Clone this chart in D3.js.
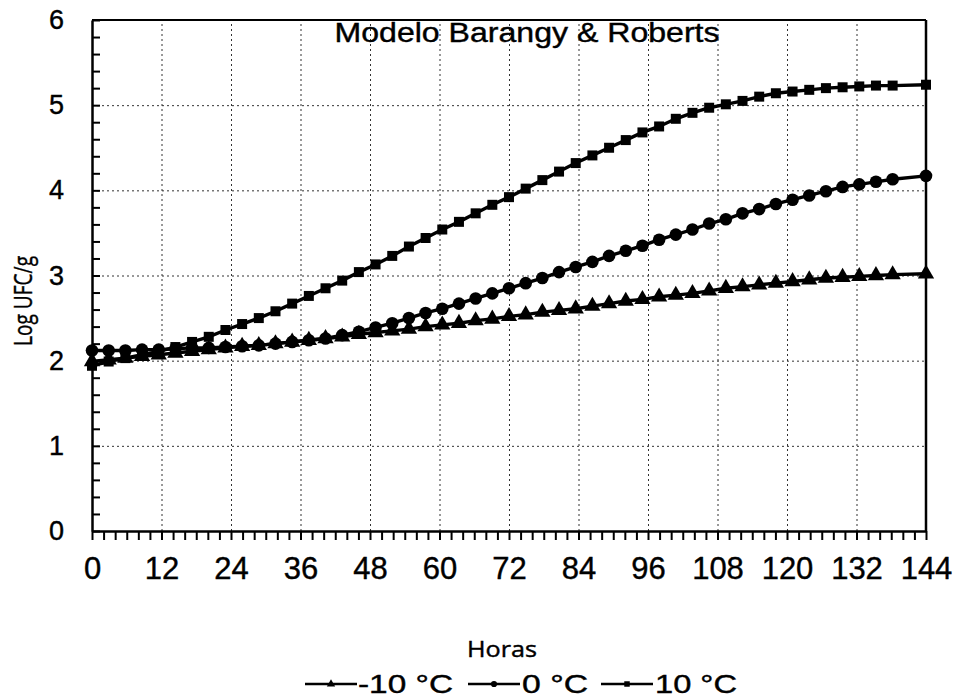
<!DOCTYPE html>
<html>
<head>
<meta charset="utf-8">
<script src="https://cdn.jsdelivr.net/npm/d3@7"></script>
<style>
  html, body { margin: 0; padding: 0; background: #fff; }
  svg { display: block; }
</style>
</head>
<body>
<svg id="chart" width="954" height="700"></svg>
<script>
// ---- data ----
const hours = [0,2.88,5.76,8.64,11.52,14.4,17.28,20.16,23.04,25.92,28.8,31.68,34.56,37.44,40.32,43.2,46.08,48.96,51.84,54.72,57.6,60.48,63.36,66.24,69.12,72,74.88,77.76,80.64,83.52,86.4,89.28,92.16,95.04,97.92,100.8,103.68,106.56,109.44,112.32,115.2,118.08,120.96,123.84,126.72,129.6,132.48,135.36,138.24,144];
const seriesMinus10 = [1.99,2.01,2.03,2.05,2.07,2.09,2.11,2.13,2.15,2.17,2.18,2.20,2.22,2.24,2.26,2.28,2.31,2.33,2.35,2.37,2.40,2.42,2.44,2.47,2.49,2.52,2.54,2.57,2.59,2.61,2.64,2.67,2.70,2.72,2.75,2.77,2.79,2.82,2.85,2.87,2.89,2.91,2.93,2.95,2.97,2.98,2.99,3.00,3.01,3.02];
const series0 = [2.12,2.12,2.12,2.13,2.13,2.14,2.15,2.15,2.16,2.17,2.18,2.20,2.22,2.24,2.26,2.30,2.34,2.39,2.44,2.50,2.56,2.61,2.67,2.73,2.79,2.85,2.91,2.97,3.04,3.10,3.16,3.23,3.29,3.35,3.42,3.48,3.54,3.61,3.66,3.73,3.78,3.84,3.89,3.94,3.99,4.04,4.07,4.10,4.13,4.17];
const series10 = [1.94,1.99,2.03,2.07,2.11,2.16,2.22,2.28,2.36,2.43,2.50,2.58,2.67,2.76,2.85,2.94,3.04,3.13,3.23,3.34,3.44,3.54,3.63,3.73,3.83,3.92,4.02,4.12,4.22,4.32,4.41,4.50,4.59,4.68,4.75,4.84,4.91,4.97,5.01,5.05,5.10,5.14,5.16,5.18,5.20,5.21,5.22,5.23,5.23,5.24];
const seriesNames = ["-10 °C", "0 °C", "10 °C"];
const seriesSymbols = ["triangle", "circle", "square"];
const xTickLabels = [0,12,24,36,48,60,72,84,96,108,120,132,144];
const yTickLabels = [0,1,2,3,4,5,6];
const titleText = "Modelo Barangy & Roberts";
const xTitle = "Horas";
const yTitle = "Log UFC/g";

// ---- layout ----
const svg = d3.select("#chart");
const L = 92, R = 926, T = 20, B = 531;
const x = d3.scaleLinear().domain([0, 144]).range([L, R]);
const y = d3.scaleLinear().domain([0, 6]).range([B, T]);
const FONT = "'Liberation Sans', Arial, sans-serif";

// gridlines
const gx = svg.append("g").attr("transform", `translate(0,${B})`)
  .call(d3.axisBottom(x).tickValues(xTickLabels.slice(1, -1)).tickSize(-(B - T)).tickFormat(""));
gx.select(".domain").remove();
gx.selectAll("line").attr("stroke", "#333").attr("stroke-width", 1).attr("stroke-dasharray", "2,3");
const gy = svg.append("g").attr("transform", `translate(${L},0)`)
  .call(d3.axisLeft(y).tickValues(yTickLabels.slice(1, -1)).tickSize(-(R - L)).tickFormat(""));
gy.select(".domain").remove();
gy.selectAll("line").attr("stroke", "#333").attr("stroke-width", 1).attr("stroke-dasharray", "2,3");

// frame (top & right)
svg.append("line").attr("x1", L).attr("x2", R).attr("y1", T).attr("y2", T).attr("stroke", "#000").attr("stroke-width", 2);
svg.append("line").attr("x1", R).attr("x2", R).attr("y1", T).attr("y2", B).attr("stroke", "#000").attr("stroke-width", 2.5);

// x axis minor ticks (outside)
const xAx = svg.append("g").attr("transform", `translate(0,${B})`)
  .call(d3.axisBottom(x).tickValues(d3.range(0, 145, 2)).tickSizeInner(9).tickSizeOuter(0).tickFormat(""));
xAx.select(".domain").attr("stroke", "#000").attr("stroke-width", 2.5);
xAx.selectAll(".tick line").attr("stroke", "#000").attr("stroke-width", 2);

// x labels
const xLab = svg.append("g").attr("transform", `translate(0,${B})`)
  .call(d3.axisBottom(x).tickValues(xTickLabels).tickSize(0).tickPadding(26).tickFormat(d => d));
xLab.select(".domain").remove();
xLab.selectAll("text").attr("font-family", FONT).attr("font-size", 31).attr("fill", "#000")
  .attr("stroke", "#000").attr("stroke-width", 0.4);

// y axis minor ticks (inside)
const yAx = svg.append("g").attr("transform", `translate(${L},0)`)
  .call(d3.axisLeft(y).tickValues(d3.range(0, 31).map(i => i * 0.2)).tickSizeInner(-8).tickSizeOuter(0).tickFormat(""));
yAx.select(".domain").attr("stroke", "#000").attr("stroke-width", 2.5);
yAx.selectAll(".tick line").attr("stroke", "#000").attr("stroke-width", 2);

// y labels
const yLab = svg.append("g").attr("transform", `translate(${L},0)`)
  .call(d3.axisLeft(y).tickValues(yTickLabels).tickSize(0).tickPadding(28).tickFormat(d => d));
yLab.select(".domain").remove();
yLab.selectAll("text").attr("font-family", FONT).attr("font-size", 27).attr("fill", "#000")
  .attr("stroke", "#000").attr("stroke-width", 0.4);

// series
const allSeries = [seriesMinus10, series0, series10];
const symTypes = { triangle: d3.symbolTriangle, circle: d3.symbolCircle, square: d3.symbolSquare };
const symSizes = { triangle: 115, circle: 125, square: 100 };
const line = d3.line().x((d, i) => x(hours[i])).y(d => y(d));
allSeries.forEach((s, k) => {
  svg.append("path").attr("d", line(s)).attr("fill", "none").attr("stroke", "#000").attr("stroke-width", 3.4);
  const sym = d3.symbol().type(symTypes[seriesSymbols[k]]).size(symSizes[seriesSymbols[k]]);
  svg.append("g").selectAll("path").data(s).join("path")
    .attr("transform", (d, i) => `translate(${x(hours[i])},${y(d)})`)
    .attr("d", sym).attr("fill", "#000");
});

// title
svg.append("text").attr("x", 527).attr("y", 42).attr("text-anchor", "middle")
  .attr("font-family", FONT).attr("font-size", 27).attr("fill", "#000")
  .attr("stroke", "#000").attr("stroke-width", 0.4)
  .attr("textLength", 385).attr("lengthAdjust", "spacingAndGlyphs").text(titleText);

// axis titles
svg.append("text").attr("x", 502).attr("y", 657).attr("text-anchor", "middle")
  .attr("font-family", "'Open Sans', sans-serif").attr("font-size", 21).attr("fill", "#000")
  .attr("stroke", "#000").attr("stroke-width", 0.4)
  .attr("textLength", 70).attr("lengthAdjust", "spacingAndGlyphs").text(xTitle);
svg.append("text").attr("transform", "translate(32,301) rotate(-90)").attr("text-anchor", "middle")
  .attr("font-family", "'Open Sans', sans-serif").attr("font-size", 26).attr("fill", "#000")
  .attr("stroke", "#000").attr("stroke-width", 0.4)
  .attr("textLength", 90).attr("lengthAdjust", "spacingAndGlyphs").text(yTitle);

// legend
const legendY = 684;
const legItems = [
  { lx: 305, tx: 358, tw: 95 },
  { lx: 468, tx: 522, tw: 66 },
  { lx: 601, tx: 655, tw: 82 }
];
seriesNames.forEach((name, k) => {
  const it = legItems[k];
  svg.append("line").attr("x1", it.lx).attr("x2", it.lx + 52).attr("y1", legendY).attr("y2", legendY)
    .attr("stroke", "#000").attr("stroke-width", 2.5);
  svg.append("path").attr("transform", `translate(${it.lx + 26},${legendY})`)
    .attr("d", d3.symbol().type(symTypes[seriesSymbols[k]]).size(30)).attr("fill", "#000");
  svg.append("text").attr("x", it.tx).attr("y", legendY + 9)
    .attr("font-family", FONT).attr("font-size", 25).attr("fill", "#000")
    .attr("stroke", "#000").attr("stroke-width", 0.4)
    .attr("textLength", it.tw).attr("lengthAdjust", "spacingAndGlyphs").text(name);
});
</script>
</body>
</html>
